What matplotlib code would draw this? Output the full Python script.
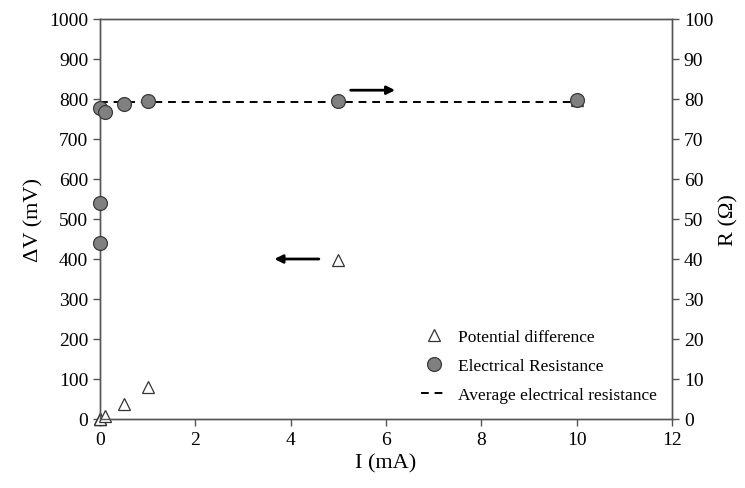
import matplotlib
matplotlib.use("Agg")
import matplotlib.pyplot as plt

plt.rcParams['font.family'] = ['Liberation Serif', 'DejaVu Serif']
plt.rcParams['font.size'] = 14

current = [0.001, 0.005, 0.01, 0.1, 0.5, 1, 5, 10]
potential = [0.044, 0.27, 0.78, 7.7, 38.5, 79.3, 397.5, 797]
resistance = [44, 54, 77.8, 76.8, 78.8, 79.4, 79.5, 79.7]
avg_x = [0, 10]
avg_r = [79.2, 79.2]

fig = plt.figure(figsize=(7.45, 4.89), dpi=100)
ax = fig.add_axes([100/745, 1-420/489, 572/745, 400/489])
ax2 = ax.twinx()

spc = '#555555'
l1, = ax.plot(current, potential, linestyle='none', marker='^', markersize=9,
              markerfacecolor='white', markeredgecolor='#333333', markeredgewidth=0.9,
              label='Potential difference', zorder=3, clip_on=False)
l3, = ax2.plot(avg_x, avg_r, linestyle='--', color='black', linewidth=1.4,
               dashes=(4, 3), label='Average electrical resistance', zorder=2)
l2, = ax2.plot(current, resistance, linestyle='none', marker='o', markersize=10,
               markerfacecolor='#808080', markeredgecolor='#3a3a3a', markeredgewidth=0.9,
               label='Electrical Resistance', zorder=4, clip_on=False)

ax.set_xlim(0, 12)
ax.set_ylim(0, 1000)
ax2.set_ylim(0, 100)
ax.set_xticks(range(0, 13, 2))
ax.set_yticks(range(0, 1001, 100))
ax2.set_yticks(range(0, 101, 10))

for a in (ax, ax2):
    for s in a.spines.values():
        s.set_color(spc)
        s.set_linewidth(1.0)
    a.tick_params(direction='out', length=5, color=spc, width=1.0, labelsize=14)

ax.set_xlabel('I (mA)', fontsize=16)
ax.set_ylabel('ΔV (mV)', fontsize=16)
ax2.set_ylabel('R (Ω)', fontsize=16)

ax.annotate('', xy=(3.6, 400), xytext=(4.65, 400),
            arrowprops=dict(arrowstyle='-|>', color='black', lw=2, mutation_scale=12))
ax2.annotate('', xy=(6.25, 82.2), xytext=(5.2, 82.2),
             arrowprops=dict(arrowstyle='-|>', color='black', lw=2, mutation_scale=12))

ax2.legend([l1, l2, l3], [l1.get_label(), l2.get_label(), l3.get_label()],
           loc='lower right', frameon=False, fontsize=12.5, handlelength=1.5,
           bbox_to_anchor=(1.0, 0.0), labelspacing=0.75, handletextpad=0.6)

fig.savefig('out.png', dpi=100)
